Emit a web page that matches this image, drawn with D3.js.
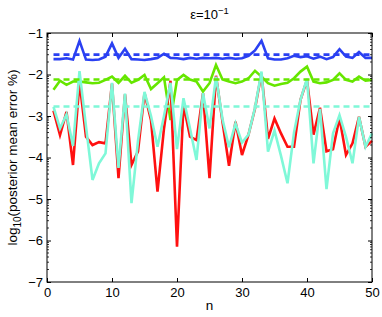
<!DOCTYPE html>
<html>
<head>
<meta charset="utf-8">
<script src="https://cdn.jsdelivr.net/npm/d3@7"></script>
<style>
body { margin: 0; background: #fff; }
svg { display: block; font-family: "Liberation Sans", Arial, sans-serif; }
</style>
</head>
<body>
<script>
var n = d3.range(1, 51);

var blue = [-1.63, -1.63, -1.61, -1.64, -1.19, -1.64, -1.65, -1.64, -1.57, -1.25,
	-1.6, -1.38, -1.63, -1.64, -1.65, -1.63, -1.6, -1.5, -1.6, -1.61,
	-1.63, -1.6, -1.62, -1.6, -1.61, -1.6, -1.62, -1.6, -1.62, -1.61,
	-1.55, -1.42, -1.19, -1.61, -1.64, -1.64, -1.61, -1.55, -1.58, -1.56,
	-1.62, -1.57, -1.63, -1.58, -1.39, -1.57, -1.6, -1.46, -1.6, -1.6];

var green = [-2.37, -2.15, -2.25, -2.17, -2.17, -2.19, -2.21, -2.2, -2.13, -2.05,
	-2.2, -2.03, -2.2, -2.13, -2.01, -2.35, -2.21, -2.07, -3.1, -2.13,
	-2.01, -2.12, -2.17, -2.41, -2.21, -1.77, -2.12, -2.17, -2.21, -2.17,
	-2.09, -1.91, -2.05, -2.21, -2.27, -2.23, -2.2, -2.09, -1.93, -1.81,
	-2.17, -2.21, -2.19, -2.13, -1.97, -2.13, -2.17, -2.05, -2.15, -2.13];

var red = [-2.87, -3.46, -2.9, -4.18, -2.18, -3.5, -3.7, -3.63, -3.66, -2.22,
	-4.5, -2.48, -4.18, -3.85, -2.45, -3.1, -4.82, -3.3, -2.15, -6.15,
	-2.73, -3.5, -3.58, -2.45, -4.5, -2.03, -3.14, -4.2, -3.14, -3.94,
	-3.45, -2.82, -1.97, -3.55, -3.06, -3.42, -3.74, -3.74, -2.61, -2.13,
	-3.45, -2.8, -3.85, -3.8, -3.05, -3.94, -3.66, -3.02, -3.74, -3.6];

var cyan = [-2.78, -3.3, -2.96, -3.72, -1.92, -3.25, -4.54, -4.14, -3.9, -2.2,
	-4.25, -2.46, -5.1, -3.6, -2.42, -3.0, -3.74, -3.0, -2.2, -3.8,
	-2.57, -3.3, -4.06, -2.45, -3.3, -2.05, -3.08, -3.75, -3.18, -3.64,
	-3.45, -2.8, -1.93, -3.86, -3.35, -3.96, -4.62, -3.4, -2.61, -2.1,
	-4.14, -2.83, -4.76, -3.42, -2.98, -3.5, -4.14, -3.02, -3.74, -3.42];

// mean levels (dashed)
var means = [-1.52, -2.12, -2.77];

var xTicks = [0, 10, 20, 30, 40, 50];
var yTicks = [-7, -6, -5, -4, -3, -2, -1];

var width = 382;
var height = 317;
var mLeft = 47, mRight = 372, mTop = 33, mBottom = 282;

var colBlue = "#2a40f2";
var colGreen = "#66e600";
var colRed = "#ff1010";
var colCyan = "#7ff8d8";

var svg = d3.select("body").append("svg")
	.attr("width", width)
	.attr("height", height);

var x = d3.scaleLinear().domain([0, 50]).range([mLeft, mRight]);
var y = d3.scaleLinear().domain([-7, -1]).range([mBottom, mTop]);

var line = d3.line()
	.x(function(d, i) { return x(n[i]); })
	.y(function(d) { return y(d); });

// series
[[blue, colBlue], [green, colGreen], [red, colRed], [cyan, colCyan]].forEach(function(s) {
	svg.append("path")
		.datum(s[0])
		.attr("d", line)
		.attr("fill", "none")
		.attr("stroke", s[1])
		.attr("stroke-width", 2.6)
		.attr("stroke-linejoin", "miter");
});

// dashed means
svg.selectAll(".mean")
	.data(means)
	.enter()
	.append("line")
	.attr("class", "mean")
	.attr("x1", x(1))
	.attr("x2", x(50))
	.attr("y1", function(d) { return y(d); })
	.attr("y2", function(d) { return y(d); })
	.attr("stroke", function(d, i) { return [colBlue, colGreen, colCyan][i]; })
	.attr("stroke-width", 2.6)
	.attr("stroke-dasharray", "6,4");

// box
svg.append("rect")
	.attr("x", mLeft)
	.attr("y", mTop)
	.attr("width", mRight - mLeft)
	.attr("height", mBottom - mTop)
	.attr("fill", "none")
	.attr("stroke", "#000")
	.attr("stroke-width", 1);

// axes, ticks inward
svg.append("g")
	.attr("transform", "translate(0," + mBottom + ")")
	.call(d3.axisBottom(x).tickValues(xTicks).tickSize(-4).tickPadding(6))
	.call(function(g) { g.select(".domain").remove(); });

svg.append("g")
	.attr("transform", "translate(0," + mTop + ")")
	.call(d3.axisTop(x).tickValues(xTicks).tickSize(-4).tickFormat(""))
	.call(function(g) { g.select(".domain").remove(); });

svg.append("g")
	.attr("transform", "translate(" + mLeft + ",0)")
	.call(d3.axisLeft(y).tickValues(yTicks).tickSize(-4).tickPadding(4).tickFormat(d3.format("d")))
	.call(function(g) { g.select(".domain").remove(); });

svg.append("g")
	.attr("transform", "translate(" + mRight + ",0)")
	.call(d3.axisRight(y).tickValues(yTicks).tickSize(-4).tickFormat(""))
	.call(function(g) { g.select(".domain").remove(); });

svg.selectAll(".tick text")
	.attr("font-size", "13px")
	.attr("fill", "#000");

// minor log-style ticks within each unit
var minor = [];
for (var k = -7; k < -1; k++) {
	for (var m = 2; m <= 9; m++) minor.push(k + Math.log10(m));
}
svg.selectAll(".minorL")
	.data(minor)
	.enter()
	.append("line")
	.attr("x1", mLeft).attr("x2", mLeft + 2)
	.attr("y1", function(d) { return y(d); })
	.attr("y2", function(d) { return y(d); })
	.attr("stroke", "#000").attr("stroke-width", 0.8);
svg.selectAll(".minorR")
	.data(minor)
	.enter()
	.append("line")
	.attr("x1", mRight - 2).attr("x2", mRight)
	.attr("y1", function(d) { return y(d); })
	.attr("y2", function(d) { return y(d); })
	.attr("stroke", "#000").attr("stroke-width", 0.8);

// labels
var title = svg.append("text")
	.attr("x", (mLeft + mRight) / 2)
	.attr("y", 19)
	.attr("text-anchor", "middle")
	.attr("font-size", "13px");
title.append("tspan").text("ε=10");
title.append("tspan").attr("dy", -5).attr("font-size", "9.5px").text("−1");

svg.append("text")
	.attr("x", (mLeft + mRight) / 2)
	.attr("y", 310)
	.attr("text-anchor", "middle")
	.attr("font-size", "13.5px")
	.text("n");

var ylab = svg.append("text")
	.attr("transform", "translate(17," + ((mTop + mBottom) / 2) + ") rotate(-90)")
	.attr("text-anchor", "middle")
	.attr("font-size", "13.5px");
ylab.append("tspan").text("log");
ylab.append("tspan").attr("dy", 4).attr("font-size", "10px").text("10");
ylab.append("tspan").attr("dy", -4).text("(posterior mean error %)");
</script>
</body>
</html>
